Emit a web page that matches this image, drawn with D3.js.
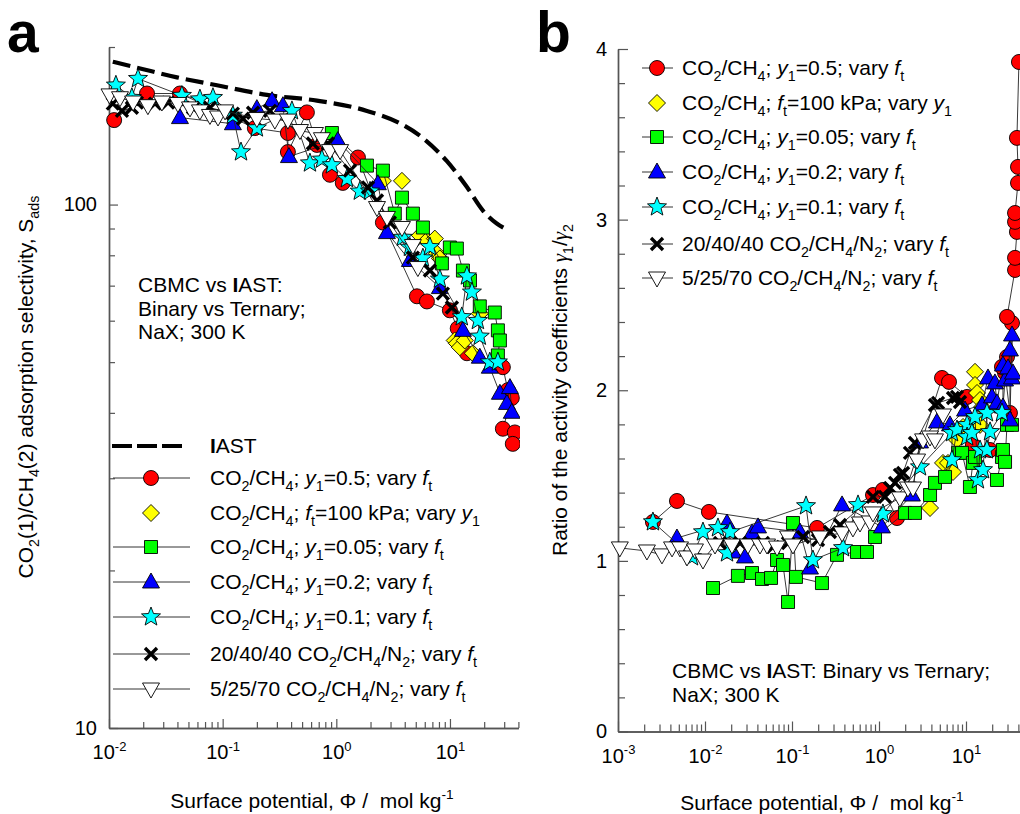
<!DOCTYPE html>
<html><head><meta charset="utf-8">
<script src="https://cdn.jsdelivr.net/npm/d3@7"></script>
<style>
body{margin:0;background:#fff;}
text{font-family:"Liberation Sans",Arial,sans-serif;white-space:pre;}
</style></head><body>
<svg id="c" width="1020" height="814"></svg>
<script>
// ---------------- Panel a data: x = surface potential (mol/kg), S = selectivity
const iastX = [0.0108,0.0188,0.0396,0.0891,0.245,0.675,1.86,3.62,5.78,9.4,14.1,19.5,25.8,30.4];
const iastS = [187.5,182,175,169,162,158,151,143,134,121,108,97.4,92,90];

const aRedX = [0.0111,0.0216,0.0421,0.192,0.375,0.375,0.551,0.675,0.879,1.14,1.55,2.57,5.12,6.27,9.98,11.7,14.1,29.2,32.3,35.0,29.2,37.2,35.7];
const aRedS = [145,163,163,140,137,126,150,130,114,110,123,92.4,66.8,65.3,62.8,58.0,52.0,48.9,44.2,42.7,37.3,36.7,34.9];
const aYelX = [2.57,3.78,5.43,6.27,7.36,7.67,8.15,11.0,11.5,12.2,13.5,15.9,18.3];
const aYelS = [111,111,87.3,85.4,86.1,80.6,78.9,55.0,54.3,53.4,55.0,52.0,61.9];
const aGrnX = [0.914,1.86,2.57,3.27,3.78,4.72,5.78,8.49,9.98,11.5,13.0,15.0,18.3,24.8,26.4,27.5,26.4];
const aGrnS = [137,118.7,116.1,96.1,103.1,96.1,90.4,77.2,82.8,82.4,74.8,71.6,63.9,62.2,57.5,55.0,51.5];
const aBluX = [0.0421,0.123,0.200,0.272,0.339,0.383,1.03,2.32,2.79,4.44,8.15,13.0,18.3,22.4,27.5,31.7,33.7,35.0];
const aBluS = [146.6,142.7,152.5,157.9,154.5,123.5,132.5,109.6,88.4,78.2,69.4,57.5,51.1,48.9,43.6,41.7,44.7,40.1];
const aCyaX = [0.0115,0.0159,0.0180,0.0438,0.0631,0.0822,0.123,0.145,0.200,0.407,0.586,0.747,0.914,1.24,1.61,1.98,3.85,4.44,5.78,6.66,8.15,12.7,14.1,15.6,17.6,18.3,22.4,26.4];
const aCyaS = [169,160,174,161.5,159,160,148,126,140,151,120,122,119,112,106,106,86.5,82.8,79,83,72,61,73,68,60,56,50,50];
const aBlkX = [0.0108,0.0130,0.0159,0.0176,0.0254,0.0331,0.0548,0.0773,0.123,0.151,0.185,0.261,0.622,0.843,1.32,1.90,2.28,2.96,4.72,6.66,8.66,10.4];
const aBlkS = [155.9,151,153.1,156.6,155.9,156.6,153.1,153.1,149.2,145.9,149.8,151,130.8,130.8,116.1,107.8,101.8,92.4,79.2,74.8,67.6,63.6];
const aWhtX = [0.0101,0.0125,0.0163,0.0220,0.0292,0.0404,0.0516,0.0631,0.0773,0.0910,0.105,0.200,0.288,0.375,0.479,0.649,0.747,0.879,1.08,2.28,2.79,3.78,4.72,5.22];
const aWhtS = [162,160,157,154.5,157,156,153,151,148,147,151,146,145,145,138.5,136.7,133.6,126.8,126.8,98.7,94.5,90.4,83.5,75.8];

// ---------------- Panel b data: x = surface potential, g = gamma1/gamma2
const bRedX = [0.00252,0.00476,0.0111,0.194,0.853,1.11,1.61,5.30,6.38,10.3,12.0,18.9,32.0,28.1,25.9,29.6,33.8,29.6,36.6,36.6,38.5,36.6,36.6,39.6,39.6,38.5,40.6];
const bRedG = [1.228,1.351,1.287,1.193,1.386,1.416,1.251,2.072,2.049,1.961,1.679,1.650,1.867,2.102,2.137,2.195,2.394,2.430,2.705,2.776,2.928,2.987,3.039,3.215,3.309,3.479,3.924];
const bYelX = [3.86,5.44,6.21,7.09,7.88,9.25,12.7,12.7,13.4,14.5,14.5,15.3];
const bYelG = [1.310,1.574,1.574,1.521,1.709,1.785,2.108,2.031,1.984,1.943,1.797,1.902];
const bGrnX = [0.01236,0.0239,0.0347,0.0452,0.0574,0.0673,0.0788,0.0900,0.1026,0.111,0.221,0.329,0.558,0.728,0.900,1.99,2.59,3.86,4.40,5.74,8.09,9.00,11.1,12.0,12.7,22.7,25.9,26.6,28.1,29.6,33.8];
const bGrnG = [0.841,0.912,0.929,0.894,0.900,1.005,0.976,0.759,1.222,0.906,0.870,1.035,1.052,1.052,1.140,1.281,1.281,1.386,1.457,1.492,1.633,1.633,1.433,1.574,1.609,1.474,1.609,1.650,1.580,1.797,1.797];
const bBluX = [0.00476,0.0179,0.0210,0.0288,0.0347,0.0407,0.1236,0.161,0.376,1.08,2.39,2.96,4.64,6.55,9.75,15.3,17.9,19.9,21.5,22.7,26.6,26.6,28.1,30.4,32.0,32.0,33.8,33.8,34.7];
const bBluG = [1.134,1.222,1.052,1.023,1.164,1.199,1.169,0.958,1.328,1.199,1.386,1.697,1.814,1.797,1.884,1.914,2.072,1.961,2.043,1.926,2.148,1.902,2.060,2.131,2.236,1.826,2.324,2.072,2.101];
const bCyaX = [0.00252,0.00708,0.00948,0.0141,0.0179,0.0194,0.145,0.174,0.386,0.574,1.11,2.96,6.90,6.90,7.88,10.3,10.3,11.7,12.7,13.7,14.5,15.7,17.4,17.4,18.9,25.9];
const bCyaG = [1.228,1.023,1.169,1.193,1.046,1.169,1.322,1.005,1.076,1.328,1.275,1.550,1.750,1.591,1.767,1.797,1.726,1.750,1.844,1.474,1.650,1.533,1.867,1.650,1.756,1.867];
const bBlkX = [0.01487,0.0253,0.0464,0.0605,0.0900,0.134,0.199,0.273,0.356,0.853,1.17,1.34,1.53,1.74,1.89,2.27,2.59,4.40,4.77,7.09,7.88,8.53];
const bBlkG = [1.105,1.105,1.105,1.081,1.105,1.140,1.122,1.169,1.210,1.375,1.375,1.427,1.457,1.504,1.515,1.633,1.691,1.914,1.926,1.955,1.961,1.931];
const bWhtX = [0.00105,0.00215,0.00320,0.00418,0.00516,0.00621,0.00767,0.00948,0.01303,0.0204,0.0312,0.0429,0.0516,0.0673,0.0900,0.1026,0.210,0.376,0.502,0.605,0.788,0.853,1.74,2.15,2.46,2.74,3.21,3.86,4.40,5.44];
const bWhtG = [1.076,1.058,1.035,1.076,1.076,1.023,1.064,1.005,1.093,1.093,1.093,1.093,1.093,1.081,1.140,1.093,1.140,1.164,1.193,1.222,1.228,1.281,1.369,1.427,1.427,1.591,1.709,1.726,1.709,1.855];

// ---------------- Ticks
const aXMajor = [0.01,0.1,1,10];
const aXMinor = [0.02,0.03,0.04,0.05,0.06,0.07,0.08,0.09,0.2,0.3,0.4,0.5,0.6,0.7,0.8,0.9,2,3,4,5,6,7,8,9,20,30,40];
const aYMajor = [10,100];
const aYMinor = [20,30,40,50,60,70,80,90,200];
const bXMajor = [0.001,0.01,0.1,1,10];
const bXMinor = [];
[0.001,0.01,0.1,1,10].forEach(d=>{for(let k=2;k<=9;k++) bXMinor.push(d*k);});
const bYMajor = [0,1,2,3,4];
const bYMinor = [0.2,0.4,0.6,0.8,1.2,1.4,1.6,1.8,2.2,2.4,2.6,2.8,3.2,3.4,3.6,3.8];

// ---------------- Labels
const seriesLabels = [
 [['CO'],['2','sub'],['/CH'],['4','sub'],['; '],['y','i'],['1','sub'],['=0.5; vary '],['f','i'],['t','sub']],
 [['CO'],['2','sub'],['/CH'],['4','sub'],['; '],['f','i'],['t','sub'],['=100 kPa; vary '],['y','i'],['1','sub']],
 [['CO'],['2','sub'],['/CH'],['4','sub'],['; '],['y','i'],['1','sub'],['=0.05; vary '],['f','i'],['t','sub']],
 [['CO'],['2','sub'],['/CH'],['4','sub'],['; '],['y','i'],['1','sub'],['=0.2; vary '],['f','i'],['t','sub']],
 [['CO'],['2','sub'],['/CH'],['4','sub'],['; '],['y','i'],['1','sub'],['=0.1; vary '],['f','i'],['t','sub']],
 [['20/40/40 CO'],['2','sub'],['/CH'],['4','sub'],['/N'],['2','sub'],['; vary '],['f','i'],['t','sub']],
 [['5/25/70 CO'],['2','sub'],['/CH'],['4','sub'],['/N'],['2','sub'],['; vary '],['f','i'],['t','sub']]
];

// ---------------- Styles
function starPath(R, r){
  let p=[];
  for(let i=0;i<10;i++){const a=-Math.PI/2+i*Math.PI/5;const rr=i%2?r:R;p.push([rr*Math.cos(a),rr*Math.sin(a)]);}
  return 'M'+p.map(q=>q[0].toFixed(2)+','+q[1].toFixed(2)).join('L')+'Z';
}
const shapes = {
  circle:'M7.5,0A7.5,7.5 0 1,1 -7.5,0A7.5,7.5 0 1,1 7.5,0Z',
  diamond:'M0,-8.5L8.5,0L0,8.5L-8.5,0Z',
  square:'M-6.5,-6.5H6.5V6.5H-6.5Z',
  tri:'M0,-9L8.5,6L-8.5,6Z',
  star:starPath(10,4.3),
  cross:'M-6,-6L6,6M-6,6L6,-6',
  itri:'M-8.5,-6L8.5,-6L0,9Z'
};
const styles = [
  {shape:'circle', fill:'#ff0000', line:true},
  {shape:'diamond', fill:'#ffff00', line:false},
  {shape:'square', fill:'#00ff00', line:true},
  {shape:'tri', fill:'#0000ff', line:true},
  {shape:'star', fill:'#00ffff', line:true},
  {shape:'cross', fill:'none', line:true},
  {shape:'itri', fill:'#ffffff', line:true}
];

const svg = d3.select('#c');
const AX = '#555';

function rich(sel, parts, size){
  let shift=0;
  parts.forEach(([t,st])=>{
    const ts = sel.append('tspan').text(t);
    let target=0, fs=size;
    if(st==='sub'){target=size*0.3;fs=size*0.68;}
    else if(st==='sup'){target=-size*0.42;fs=size*0.65;}
    ts.attr('font-size',fs);
    if(st==='i') ts.attr('font-style','italic');
    if(st==='b') ts.attr('font-weight','bold');
    if(st==='g') ts.attr('font-style','italic').attr('font-family','"Liberation Serif",serif');
    if(target!==shift){ts.attr('dy',target-shift);shift=target;}
  });
}

function drawMarker(g, shape, fill, x, y){
  const p = g.append('path').attr('d', shapes[shape]).attr('transform',`translate(${x},${y})`);
  if(shape==='cross') p.attr('fill','none').attr('stroke','#000').attr('stroke-width',3.4);
  else p.attr('fill',fill).attr('stroke','#000').attr('stroke-width',0.9);
}

function drawSeries(g, xs, ys, xScale, yScale, st){
  const pts = xs.map((d,i)=>[xScale(d), yScale(ys[i])]);
  if(st.line){
    g.append('path').attr('d', d3.line()(pts)).attr('fill','none').attr('stroke','#222').attr('stroke-width',0.9);
  }
  pts.forEach(p=>drawMarker(g, st.shape, st.fill, p[0], p[1]));
}

function supLabels(g, y){
  g.selectAll('.tick text').each(function(d){
    const t = d3.select(this); t.text(null);
    const e = Math.round(Math.log10(d));
    t.attr('y', y).attr('dy',0).attr('font-size',20).attr('fill','#000');
    rich(t, [['10'],[String(e),'sup']], 20);
  });
}

function styleAxis(g){
  g.selectAll('path.domain').attr('stroke',AX).attr('stroke-width',1.4);
  g.selectAll('.tick line').attr('stroke',AX).attr('stroke-width',1.2);
}

// ================= Panel a =================
const xA = d3.scaleLog().domain([0.01,40]).range([109,518.4]);
const yA = d3.scaleLog().domain([10,200]).range([728,47]);

const gA = svg.append('g');
gA.append('g').attr('transform','translate(0,728)')
  .call(d3.axisBottom(xA).tickValues(aXMinor).tickSize(-6).tickSizeOuter(0).tickFormat(''))
  .call(styleAxis);
gA.append('g').attr('transform','translate(0,728)')
  .call(d3.axisBottom(xA).tickValues(aXMajor).tickSize(-9).tickSizeOuter(0))
  .call(styleAxis).call(g=>supLabels(g, 31));
gA.append('g').attr('transform','translate(109,0)')
  .call(d3.axisLeft(yA).tickValues(aYMinor).tickSize(-6).tickSizeOuter(0).tickFormat(''))
  .call(styleAxis);
gA.append('g').attr('transform','translate(109,0)')
  .call(d3.axisLeft(yA).tickValues(aYMajor).tickSize(-9).tickSizeOuter(0).tickPadding(12).tickFormat(d3.format('d')))
  .call(styleAxis)
  .call(g=>g.selectAll('.tick text').attr('font-size',20).attr('fill','#000').attr('font-family','"Liberation Sans",Arial,sans-serif'));

svg.append('clipPath').attr('id','clipA').append('rect').attr('x',100).attr('y',0).attr('width',420).attr('height',740);
const plotA = gA.append('g').attr('clip-path','url(#clipA)');
plotA.append('path').attr('d', d3.line().x(d=>xA(d[0])).y(d=>yA(d[1])).curve(d3.curveMonotoneX)(iastX.map((d,i)=>[d,iastS[i]])))
  .attr('fill','none').attr('stroke','#000').attr('stroke-width',4.2).attr('stroke-dasharray','18,7');
const seriesA = [[aRedX,aRedS],[aYelX,aYelS],[aGrnX,aGrnS],[aBluX,aBluS],[aCyaX,aCyaS],[aBlkX,aBlkS],[aWhtX,aWhtS]];
seriesA.forEach((s,i)=>drawSeries(plotA, s[0], s[1], xA, yA, styles[i]));

// legend a
const legA = gA.append('g');
legA.append('line').attr('x1',112).attr('x2',182).attr('y1',446).attr('y2',446)
  .attr('stroke','#000').attr('stroke-width',4.2).attr('stroke-dasharray','20,5');
rich(legA.append('text').attr('x',210).attr('y',453).attr('font-size',21), [['I','b'],['AST']], 21);
const legAy = [478,513,547,582,617,654,689];
styles.forEach((st,i)=>{
  const y = legAy[i];
  if(st.line) legA.append('line').attr('x1',113).attr('x2',190).attr('y1',y).attr('y2',y).attr('stroke','#333').attr('stroke-width',1);
  drawMarker(legA, st.shape, st.fill, 151, y);
  rich(legA.append('text').attr('x',210).attr('y',y+7).attr('font-size',21), seriesLabels[i], 21);
});

[[['CBMC vs '],['I','b'],['AST:']],[['Binary vs Ternary;']],[['NaX; 300 K']]].forEach((p,i)=>{
  rich(gA.append('text').attr('x',138).attr('y',292+i*23.5).attr('font-size',21), p, 21);
});

rich(gA.append('text').attr('text-anchor','middle').attr('transform','translate(33,387) rotate(-90)').attr('font-size',21),
  [['CO'],['2','sub'],['(1)/CH'],['4','sub'],['(2) adsorption selectivity, S'],['ads','sub']], 21);
rich(gA.append('text').attr('text-anchor','middle').attr('x',312).attr('y',808).attr('font-size',21),
  [['Surface potential, \u03A6 /  mol kg'],['-1','sup']], 21);
svg.append('text').attr('x',7).attr('y',52).attr('font-size',57).attr('font-weight','bold').text('a');

// ================= Panel b =================
const xB = d3.scaleLog().domain([0.001,100]).range([618,1053]);
const yB = d3.scaleLinear().domain([0,4]).range([731.5,49]);
const gB = svg.append('g');
gB.append('g').attr('transform','translate(0,731.5)')
  .call(d3.axisBottom(xB).tickValues(bXMinor).tickSize(-7).tickSizeOuter(0).tickFormat(''))
  .call(styleAxis);
gB.append('g').attr('transform','translate(0,731.5)')
  .call(d3.axisBottom(xB).tickValues(bXMajor).tickSize(-10).tickSizeOuter(0))
  .call(styleAxis).call(g=>supLabels(g, 31));
gB.append('g').attr('transform','translate(618,0)')
  .call(d3.axisLeft(yB).tickValues(bYMinor).tickSize(-7).tickSizeOuter(0).tickFormat(''))
  .call(styleAxis);
gB.append('g').attr('transform','translate(618,0)')
  .call(d3.axisLeft(yB).tickValues(bYMajor).tickSize(-10).tickSizeOuter(0).tickPadding(11).tickFormat(d3.format('d')))
  .call(styleAxis)
  .call(g=>g.selectAll('.tick text').attr('font-size',20).attr('fill','#000').attr('font-family','"Liberation Sans",Arial,sans-serif'));

const seriesB = [[bRedX,bRedG],[bYelX,bYelG],[bGrnX,bGrnG],[bBluX,bBluG],[bCyaX,bCyaG],[bBlkX,bBlkG],[bWhtX,bWhtG]];
const plotB = gB.append('g');
seriesB.forEach((s,i)=>drawSeries(plotB, s[0], s[1], xB, yB, styles[i]));

const legBy = [68,103,137,172,207,244,278];
styles.forEach((st,i)=>{
  const y = legBy[i];
  if(st.line) gB.append('line').attr('x1',642).attr('x2',673).attr('y1',y).attr('y2',y).attr('stroke','#333').attr('stroke-width',1);
  drawMarker(gB, st.shape, st.fill, 657, y);
  rich(gB.append('text').attr('x',682).attr('y',y+7).attr('font-size',21), seriesLabels[i], 21);
});

rich(gB.append('text').attr('x',672).attr('y',678).attr('font-size',21), [['CBMC vs '],['I','b'],['AST: Binary vs Ternary;']], 21);
rich(gB.append('text').attr('x',672).attr('y',702).attr('font-size',21), [['NaX; 300 K']], 21);

rich(gB.append('text').attr('text-anchor','middle').attr('transform','translate(567,390) rotate(-90)').attr('font-size',21),
  [['Ratio of the activity coefficients '],['\u03B3','g'],['1','sub'],['/'],['\u03B3','g'],['2','sub']], 21);
rich(gB.append('text').attr('text-anchor','middle').attr('x',822).attr('y',810).attr('font-size',21),
  [['Surface potential, \u03A6 /  mol kg'],['-1','sup']], 21);
svg.append('text').attr('x',536).attr('y',52).attr('font-size',57).attr('font-weight','bold').text('b');
</script>
</body></html>
